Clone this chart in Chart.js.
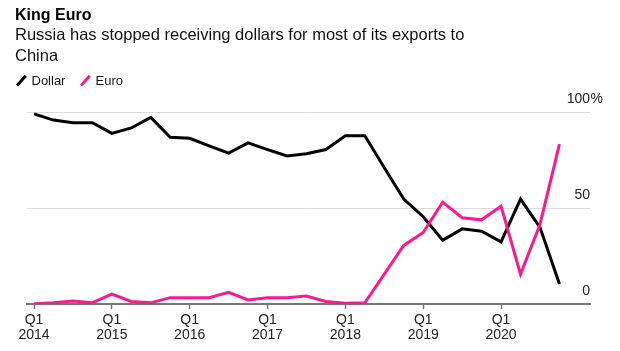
<!DOCTYPE html>
<html>
<head>
<meta charset="utf-8">
<script src="https://cdn.jsdelivr.net/npm/chart.js@4"></script>
<style>
  html, body { margin: 0; padding: 0; background: #fff; }
  body { width: 620px; height: 351px; position: relative; overflow: hidden;
         font-family: "Liberation Sans", Arial, sans-serif; color: #000; }
  #title { position: absolute; left: 15px; top: 5px; font-size: 16px; line-height: 20px; font-weight: bold; }
  #subtitle { position: absolute; left: 15px; top: 24px; width: 490px; font-size: 16.5px; line-height: 21px; color: #111; }
  #legend { position: absolute; left: 15px; top: 73px; font-size: 13px; line-height: 16px; color: #111; }
  .item { display: inline-block; margin-right: 10px; }
  .slash { display: inline-block; width: 2.5px; height: 13px; margin: 0 9px -2px 5px; transform: rotate(42deg); }
  #wrap { position: absolute; left: 0; top: 0; width: 620px; height: 351px; }
</style>
</head>
<body>
<div id="wrap"><canvas id="chart"></canvas></div>
<div id="title">King Euro</div>
<div id="subtitle">Russia has stopped receiving dollars for most of its exports to<br>China</div>
<div id="legend">
  <span class="item"><span class="slash" style="background:#000"></span>Dollar</span>
  <span class="item"><span class="slash" style="background:#fa1a8e"></span>Euro</span>
</div>
<script>
// quarterly, Q1 2014 .. Q4 2020, share of Russian exports to China (%)
const quarters = [
  '2014 Q1', '2014 Q2', '2014 Q3', '2014 Q4',
  '2015 Q1', '2015 Q2', '2015 Q3', '2015 Q4',
  '2016 Q1', '2016 Q2', '2016 Q3', '2016 Q4',
  '2017 Q1', '2017 Q2', '2017 Q3', '2017 Q4',
  '2018 Q1', '2018 Q2', '2018 Q3', '2018 Q4',
  '2019 Q1', '2019 Q2', '2019 Q3', '2019 Q4',
  '2020 Q1', '2020 Q2', '2020 Q3', '2020 Q4',
];
const dollar = [99, 95.8, 94.4, 94.4, 88.9, 91.7, 97.2, 86.8, 86.3, 82.4, 78.6, 83.9, 80.4, 77.1,
  78.3, 80.5, 87.6, 87.6, 71, 54.7, 45.5, 33.3, 39.2, 38, 32.4, 54.7, 40, 10.5];
const euro = [0.3, 0.8, 1.6, 0.8, 5.2, 1.4, 0.7, 3.4, 3.4, 3.4, 6.2, 2.2, 3.3, 3.3,
  4.2, 1.4, 0.5, 0.7, 15.6, 30.6, 37.3, 53.1, 45, 43.9, 51, 15.6, 41.5, 83.3];

const xTicks = [0, 4, 8, 12, 16, 20, 24];
const xTickLabels = [['Q1', '2014'], ['Q1', '2015'], ['Q1', '2016'], ['Q1', '2017'],
  ['Q1', '2018'], ['Q1', '2019'], ['Q1', '2020']];
const yTicks = [0, 50, 100];

const FONT = '"Liberation Sans", Arial, sans-serif';

function points(values) {
  return values.map((v, i) => ({ x: i, y: v }));
}

// hanging "%" after the top y label
const percentSign = {
  id: 'percentSign',
  afterDraw(chart) {
    const y = chart.scales.y;
    const ctx = chart.ctx;
    ctx.save();
    ctx.font = '14px ' + FONT;
    ctx.fillStyle = '#222';
    ctx.textAlign = 'left';
    ctx.textBaseline = 'middle';
    ctx.fillText('%', chart.chartArea.right + 0.5, y.getPixelForValue(100) - 13);
    ctx.restore();
  }
};

new Chart(document.getElementById('chart').getContext('2d'), {
  type: 'line',
  data: {
    datasets: [{
      label: 'Dollar',
      data: points(dollar),
      borderColor: '#000',
      borderWidth: 3,
      pointRadius: 0,
      tension: 0,
      order: 1,
    }, {
      label: 'Euro',
      data: points(euro),
      borderColor: '#fa1a8e',
      borderWidth: 3,
      pointRadius: 0,
      tension: 0,
      order: 0,
    }]
  },
  options: {
    responsive: true,
    maintainAspectRatio: false,
    animation: false,
    layout: { padding: { left: 27, right: 30, top: 112, bottom: 5 } },
    plugins: {
      legend: { display: false },
      tooltip: { enabled: false }
    },
    scales: {
      x: {
        type: 'linear',
        min: -0.36,
        max: 28.57,
        afterBuildTicks: scale => { scale.ticks = xTicks.map(v => ({ value: v })); },
        grid: { drawOnChartArea: false, drawTicks: true, tickLength: 5, tickColor: '#777', tickWidth: 1.5 },
        border: { display: true, color: '#777', width: 2 },
        ticks: {
          padding: 3,
          maxRotation: 0,
          autoSkip: false,
          color: '#222',
          font: { family: FONT, size: 14, lineHeight: 1.1 },
          callback: (v) => xTickLabels[xTicks.indexOf(v)]
        }
      },
      y: {
        position: 'right',
        min: 0,
        max: 100,
        afterBuildTicks: scale => { scale.ticks = yTicks.map(v => ({ value: v })); },
        grid: { color: '#dcdcdc', lineWidth: 1, drawTicks: false },
        border: { display: false },
        ticks: {
          mirror: true,
          padding: 0,
          labelOffset: -13,
          color: '#222',
          font: { family: FONT, size: 14 },
          callback: v => String(v)
        }
      }
    }
  },
  plugins: [percentSign]
});
</script>
</body>
</html>
